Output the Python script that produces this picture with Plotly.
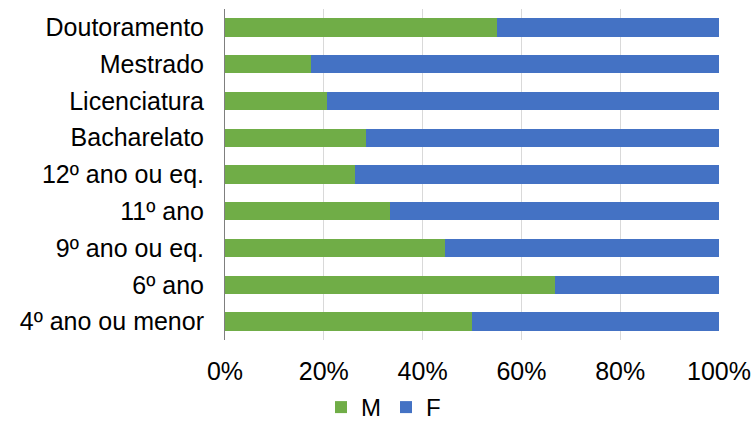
import plotly.graph_objects as go

# Education levels (bottom to top as drawn on the y axis)
levels = ["4º ano ou menor", "6º ano", "9º ano ou eq.", "11º ano", "12º ano ou eq.",
          "Bacharelato", "Licenciatura", "Mestrado", "Doutoramento"]
share_m = [50.0, 66.7, 44.6, 33.3, 26.3, 28.6, 20.7, 17.4, 55.0]
share_f = [50.0, 33.3, 55.4, 66.7, 73.7, 71.4, 79.3, 82.6, 45.0]
x_ticks = [0, 20, 40, 60, 80, 100]
x_tick_text = ["0%", "20%", "40%", "60%", "80%", "100%"]

GREEN = "#70ad47"
BLUE = "#4472c4"
FONT = "Liberation Sans, Arial, sans-serif"

fig = go.Figure()
fig.add_trace(go.Bar(y=levels, x=share_m, name="M", orientation="h",
                     marker=dict(color=GREEN, line=dict(width=0))))
fig.add_trace(go.Bar(y=levels, x=share_f, name="F", orientation="h",
                     marker=dict(color=BLUE, line=dict(width=0))))

fig.update_layout(
    barmode="stack",
    bargap=0.5,
    width=752, height=430,
    margin=dict(l=225, r=33, t=9, b=90, autoexpand=False),
    paper_bgcolor="white", plot_bgcolor="white",
    font=dict(family=FONT, size=25, color="#000000"),
    xaxis=dict(range=[0, 100], tickvals=x_ticks, ticktext=x_tick_text,
               showgrid=True, gridcolor="#d9d9d9", gridwidth=1,
               zeroline=False, showline=False, ticks="",
               ticklabelstandoff=14, automargin=False,
               tickfont=dict(size=25, color="#000000")),
    yaxis=dict(showline=True, linecolor="#7f7f7f", linewidth=1,
               ticks="", ticklabelstandoff=15, showgrid=False, automargin=False,
               tickfont=dict(size=25, color="#000000")),
    legend=dict(orientation="h", xref="container", yref="container",
                x=0.51, xanchor="center", y=0.0, yanchor="bottom",
                font=dict(size=24, color="#000000"),
                itemwidth=30, traceorder="normal",
                tracegroupgap=0),
    showlegend=True,
)

fig.write_html("out.html")
